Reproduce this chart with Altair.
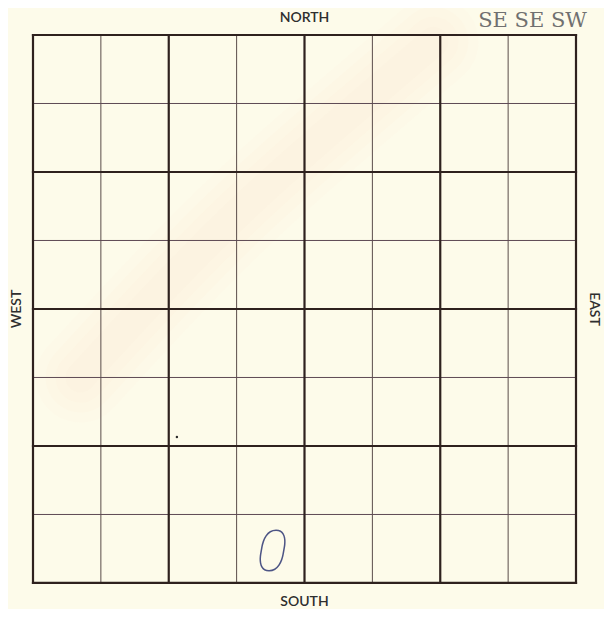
import altair as alt
import pandas as pd

# grid lines (section units: 8 x 8 cells)
grid_pos = [0, 1, 2, 3, 4, 5, 6, 7, 8]
grid_heavy = [True, False, True, False, True, False, True, False, True]
grid_lo = 0
grid_hi = 8

# direction labels
dir_text = ["NORTH", "SOUTH", "WEST", "EAST"]
dir_u = [4.0, 4.0, -0.23, 8.27]
dir_v = [8.25, -0.28, 4.0, 4.0]
dir_angle = [0, 0, 270, 90]

# typed legal description
typed_text = ["SE SE SW"]
typed_u = [7.36]
typed_v = [8.21]

# handwritten mark
hand_text = ["0"]
hand_u = [3.52]
hand_v = [0.42]

# pencil dot
dot_u = [2.12]
dot_v = [2.13]

# faint paper stain path
stain_u = [5.9, 4.6, 3.2, 1.9, 0.7]
stain_v = [7.9, 6.8, 5.6, 4.3, 3.0]

W, H = 596, 601
xs = alt.Scale(domain=[-0.3683, 8.4125], nice=False, zero=False)
ys = alt.Scale(domain=[-0.38, 8.394], nice=False, zero=False)

grid = pd.DataFrame({"pos": grid_pos, "heavy": grid_heavy})
grid["lo"] = grid_lo
grid["hi"] = grid_hi
thin = grid[~grid["heavy"]]
heavy = grid[grid["heavy"]]

stain = pd.DataFrame({"u": stain_u, "v": stain_v, "o": list(range(len(stain_u)))})
base_stain = alt.Chart(stain).encode(
    x=alt.X("u:Q", scale=xs, axis=None),
    y=alt.Y("v:Q", scale=ys, axis=None),
    order=alt.Order("o:Q"),
)
stain_layers = [
    base_stain.mark_line(color="#f3cdb0", strokeWidth=w, opacity=op, strokeCap="round", interpolate="basis")
    for w, op in [(90, 0.03), (70, 0.035), (50, 0.04), (30, 0.045)]
]

def vlines(df, color, width):
    return alt.Chart(df).mark_rule(color=color, strokeWidth=width, strokeCap="square").encode(
        x=alt.X("pos:Q", scale=xs, axis=None),
        y=alt.Y("lo:Q", scale=ys, axis=None),
        y2="hi:Q",
    )

def hlines(df, color, width):
    return alt.Chart(df).mark_rule(color=color, strokeWidth=width, strokeCap="square").encode(
        y=alt.Y("pos:Q", scale=ys, axis=None),
        x=alt.X("lo:Q", scale=xs, axis=None),
        x2="hi:Q",
    )

thin_v = vlines(thin, "#5a4c4a", 1.0)
thin_h = hlines(thin, "#5e4a54", 1.0)
heavy_v = vlines(heavy, "#2e211e", 2.2)
heavy_h = hlines(heavy, "#2e211e", 2.2)

dirs = pd.DataFrame({"t": dir_text, "u": dir_u, "v": dir_v, "a": dir_angle})
dir_layers = []
for i in range(len(dir_text)):
    dir_layers.append(
        alt.Chart(dirs.iloc[[i]]).mark_text(
            font="Lato", fontSize=14, fontWeight=600, color="#2e2e2e",
            angle=dir_angle[i], align="center", baseline="middle",
        ).encode(
            x=alt.X("u:Q", scale=xs, axis=None),
            y=alt.Y("v:Q", scale=ys, axis=None),
            text="t:N",
        )
    )

typed = alt.Chart(pd.DataFrame({"t": typed_text, "u": typed_u, "v": typed_v})).mark_text(
    font="DejaVu Serif", fontSize=21, color="#707070", align="center", baseline="middle",
).encode(
    x=alt.X("u:Q", scale=xs, axis=None),
    y=alt.Y("v:Q", scale=ys, axis=None),
    text="t:N",
)

hand = alt.Chart(pd.DataFrame({"t": hand_text, "u": hand_u, "v": hand_v})).mark_text(
    font="Roboto", fontSize=58, fontStyle="italic", fontWeight=100,
    color="#4d5585", align="center", baseline="middle",
).encode(
    x=alt.X("u:Q", scale=xs, axis=None),
    y=alt.Y("v:Q", scale=ys, axis=None),
    text="t:N",
)

dot = alt.Chart(pd.DataFrame({"u": dot_u, "v": dot_v})).mark_point(
    filled=True, size=6, color="#2a2a2a", opacity=1
).encode(
    x=alt.X("u:Q", scale=xs, axis=None),
    y=alt.Y("v:Q", scale=ys, axis=None),
)

chart = alt.layer(
    *stain_layers, thin_v, thin_h, heavy_v, heavy_h, *dir_layers, typed, hand, dot
).properties(
    width=W, height=H, background="#fdfbea", padding=0,
    autosize=alt.AutoSizeParams(type="none"),
).configure_view(stroke=None)

chart.save("out.html", embed_options={"renderer": "svg", "actions": False})
